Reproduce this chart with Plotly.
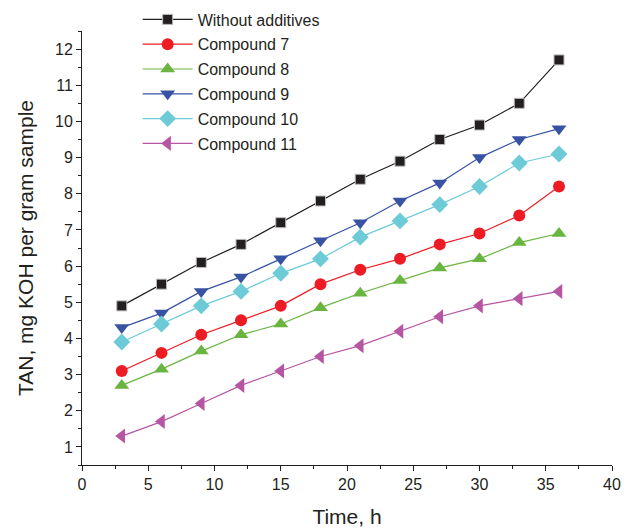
import plotly.graph_objects as go

time_h = [3, 6, 9, 12, 15, 18, 21, 24, 27, 30, 33, 36]
without_additives = [4.9, 5.5, 6.1, 6.6, 7.2, 7.8, 8.4, 8.9, 9.5, 9.9, 10.5, 11.7]
compound_7 = [3.1, 3.6, 4.1, 4.5, 4.9, 5.5, 5.9, 6.2, 6.6, 6.9, 7.4, 8.2]
compound_8 = [2.7, 3.15, 3.65, 4.1, 4.4, 4.85, 5.25, 5.6, 5.95, 6.2, 6.65, 6.9]
compound_9 = [4.3, 4.7, 5.3, 5.7, 6.2, 6.7, 7.2, 7.8, 8.3, 9.0, 9.5, 9.8]
compound_10 = [3.9, 4.4, 4.9, 5.3, 5.8, 6.2, 6.8, 7.25, 7.7, 8.2, 8.85, 9.1]
compound_11 = [1.3, 1.7, 2.2, 2.7, 3.1, 3.5, 3.8, 4.2, 4.6, 4.9, 5.1, 5.3]

series = [
    ("Without additives", without_additives, "#231f20", "square", 10),
    ("Compound 7", compound_7, "#ed1c24", "circle", 12),
    ("Compound 8", compound_8, "#6ab540", "triangle-up", 13),
    ("Compound 9", compound_9, "#3953a4", "triangle-down", 13),
    ("Compound 10", compound_10, "#6dcbd8", "diamond", 13),
    ("Compound 11", compound_11, "#b655a2", "triangle-left", 13),
]

fig = go.Figure()
for i, (name, vals, color, sym, size) in enumerate(series):
    fig.add_trace(go.Scatter(
        x=time_h, y=vals, name=name, mode="lines+markers",
        line=dict(color=color, width=1.2),
        marker=dict(symbol=sym, size=size, color=color,
                    line=dict(color="#bbbbbb" if sym == "square" else color, width=1 if sym == "square" else 0)),
        legendgroup=f"g{i}",
    ))

font_family = "Liberation Sans, Arial, sans-serif"
fig.update_layout(
    width=627, height=528,
    margin=dict(l=82, r=15, t=31, b=63, autoexpand=False),
    plot_bgcolor="white", paper_bgcolor="white",
    font=dict(family=font_family, size=16, color="#231f20"),
    showlegend=True,
    legend=dict(x=0.105, y=0.9953, xref="paper", yref="container",
                xanchor="left", yanchor="top",
                bgcolor="rgba(0,0,0,0)", font=dict(size=16),
                traceorder="grouped", tracegroupgap=1, itemwidth=50),
    xaxis=dict(
        range=[0, 40], tick0=0, dtick=5, showgrid=False, zeroline=False,
        showline=True, linecolor="#231f20", linewidth=1, automargin=False,
        ticks="outside", ticklen=5, tickcolor="#231f20",
        tickfont=dict(size=16),
        minor=dict(ticks="outside", ticklen=3, dtick=2.5, tick0=0, tickcolor="#231f20"),
        title=dict(text="Time, h", font=dict(size=21), standoff=22),
    ),
    yaxis=dict(
        range=[0.5, 12.5], tick0=0, dtick=1, showgrid=False, zeroline=False,
        showline=True, linecolor="#231f20", linewidth=1, automargin=False,
        ticks="outside", ticklen=5, tickcolor="#231f20",
        tickfont=dict(size=16),
        minor=dict(ticks="outside", ticklen=3, dtick=0.5, tick0=0, tickcolor="#231f20"),
        title=dict(text="TAN, mg KOH per gram sample", font=dict(size=21), standoff=15),
    ),
)
fig.write_html("out.html")
